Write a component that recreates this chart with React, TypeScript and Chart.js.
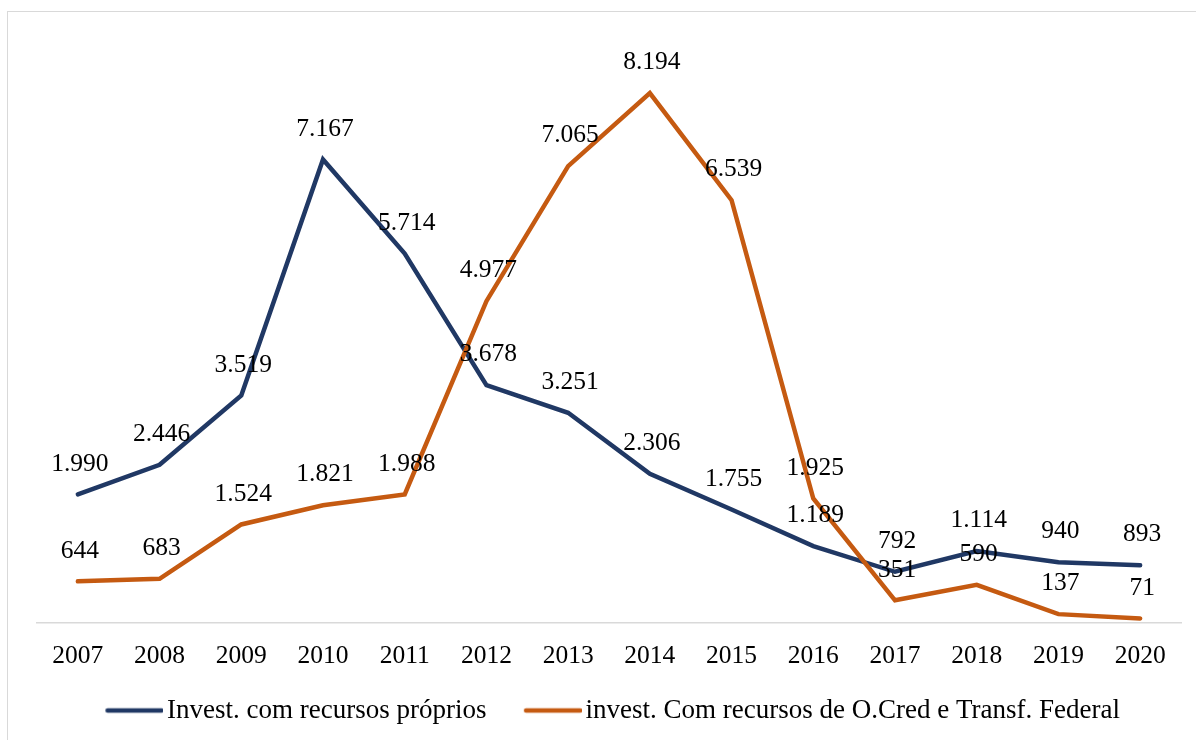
import React, { useEffect, useRef } from "react";
import { Chart, registerables } from "chart.js";

Chart.register(...registerables);

const years = ["2007", "2008", "2009", "2010", "2011", "2012", "2013", "2014", "2015", "2016", "2017", "2018", "2019", "2020"];
const proprios = [1990, 2446, 3519, 7167, 5714, 3678, 3251, 2306, 1755, 1189, 792, 1114, 940, 893];
const ocred = [644, 683, 1524, 1821, 1988, 4977, 7065, 8194, 6539, 1925, 351, 590, 137, 71];
const seriesNames = ["Invest. com recursos próprios", "invest. Com recursos de O.Cred e Transf. Federal"];
const seriesColors = ["#203864", "#C55A11"];
const yMin = 0;
const yMax = 9000;

const FONT = '"Liberation Serif", "Times New Roman", serif';
const FS = 25.5;
const LEG_FS = 27;

function fmt(v: number): string {
  return String(v).replace(/\B(?=(\d{3})+(?!\d))/g, ".");
}

const LEG_PAD = 30;
const LEG_W = 55.5;

function legendImage(color: string): HTMLCanvasElement {
  const c = document.createElement("canvas");
  c.width = Math.round(LEG_W + 19);
  c.height = 10;
  const g = c.getContext("2d")!;
  g.strokeStyle = color;
  g.lineWidth = 4.5;
  g.lineCap = "round";
  g.beginPath();
  g.moveTo(LEG_W - 38.5 + 2.25, 5);
  g.lineTo(LEG_W + 20 - 2.25, 5);
  g.stroke();
  return c;
}

const valueLabels = {
  id: "valueLabels",
  afterDatasetsDraw(chart: any) {
    const ctx = chart.ctx;
    ctx.save();
    ctx.font = `${FS}px ${FONT}`;
    ctx.fillStyle = "#000";
    ctx.textAlign = "center";
    ctx.textBaseline = "middle";
    chart.data.datasets.forEach((ds: any, i: number) => {
      const meta = chart.getDatasetMeta(i);
      meta.data.forEach((pt: any, j: number) => {
        ctx.fillText(fmt(ds.data[j]), pt.x + 2, pt.y - 30.5);
      });
    });
    ctx.restore();
  },
};

export default function App() {
  const ref = useRef<HTMLCanvasElement>(null);
  useEffect(() => {
    if (!ref.current) return;
    const imgs = seriesColors.map(legendImage);
    const chart = new Chart(ref.current, {
      type: "line",
      data: {
        labels: years,
        datasets: [
          {
            label: seriesNames[0],
            data: proprios,
            borderColor: seriesColors[0],
            backgroundColor: seriesColors[0],
            borderWidth: 4.5,
            pointRadius: 0,
            borderCapStyle: "round",
            tension: 0,
            order: 1,
          },
          {
            label: seriesNames[1],
            data: ocred,
            borderColor: seriesColors[1],
            backgroundColor: seriesColors[1],
            borderWidth: 4.5,
            pointRadius: 0,
            borderCapStyle: "round",
            tension: 0,
            order: 0,
          },
        ],
      },
      options: {
        animation: false,
        responsive: false,
        devicePixelRatio: 1,
        layout: { padding: { left: 29, right: 29, top: 29, bottom: 38 } },
        scales: {
          x: {
            offset: true,
            grid: { display: false, drawTicks: false },
            border: { display: true, color: "#d9d9d9", width: 1.5 },
            ticks: {
              color: "#000",
              font: { family: FONT, size: FS, lineHeight: 1 },
              padding: 21,
              maxRotation: 0,
              autoSkip: false,
            },
            afterFit: (scale: any) => {
              scale.height = 44;
            },
          },
          y: {
            display: false,
            min: yMin,
            max: yMax,
          },
        },
        plugins: {
          tooltip: { enabled: false },
          legend: {
            position: "bottom",
            labels: {
              color: "#000",
              font: { family: FONT, size: LEG_FS },
              usePointStyle: true,
              pointStyleWidth: LEG_W,
              padding: LEG_PAD,
              generateLabels: () =>
                seriesNames.map((n, i) => ({
                  text: n,
                  pointStyle: imgs[i],
                  fillStyle: seriesColors[i],
                  strokeStyle: seriesColors[i],
                  lineWidth: 0,
                  hidden: false,
                  datasetIndex: i,
                  fontColor: "#000",
                })),
            },
          },
        },
      },
      plugins: [valueLabels],
    });
    return () => chart.destroy();
  }, []);

  return (
    <div style={{ position: "fixed", inset: 0, overflow: "hidden", background: "#fff" }}>
      <div
        style={{
          position: "absolute",
          left: 7,
          top: 11,
          width: 1202,
          height: 760,
          border: "1px solid #d9d9d9",
        }}
      >
        <canvas ref={ref} width={1202} height={760} style={{ display: "block" }} />
      </div>
    </div>
  );
}
